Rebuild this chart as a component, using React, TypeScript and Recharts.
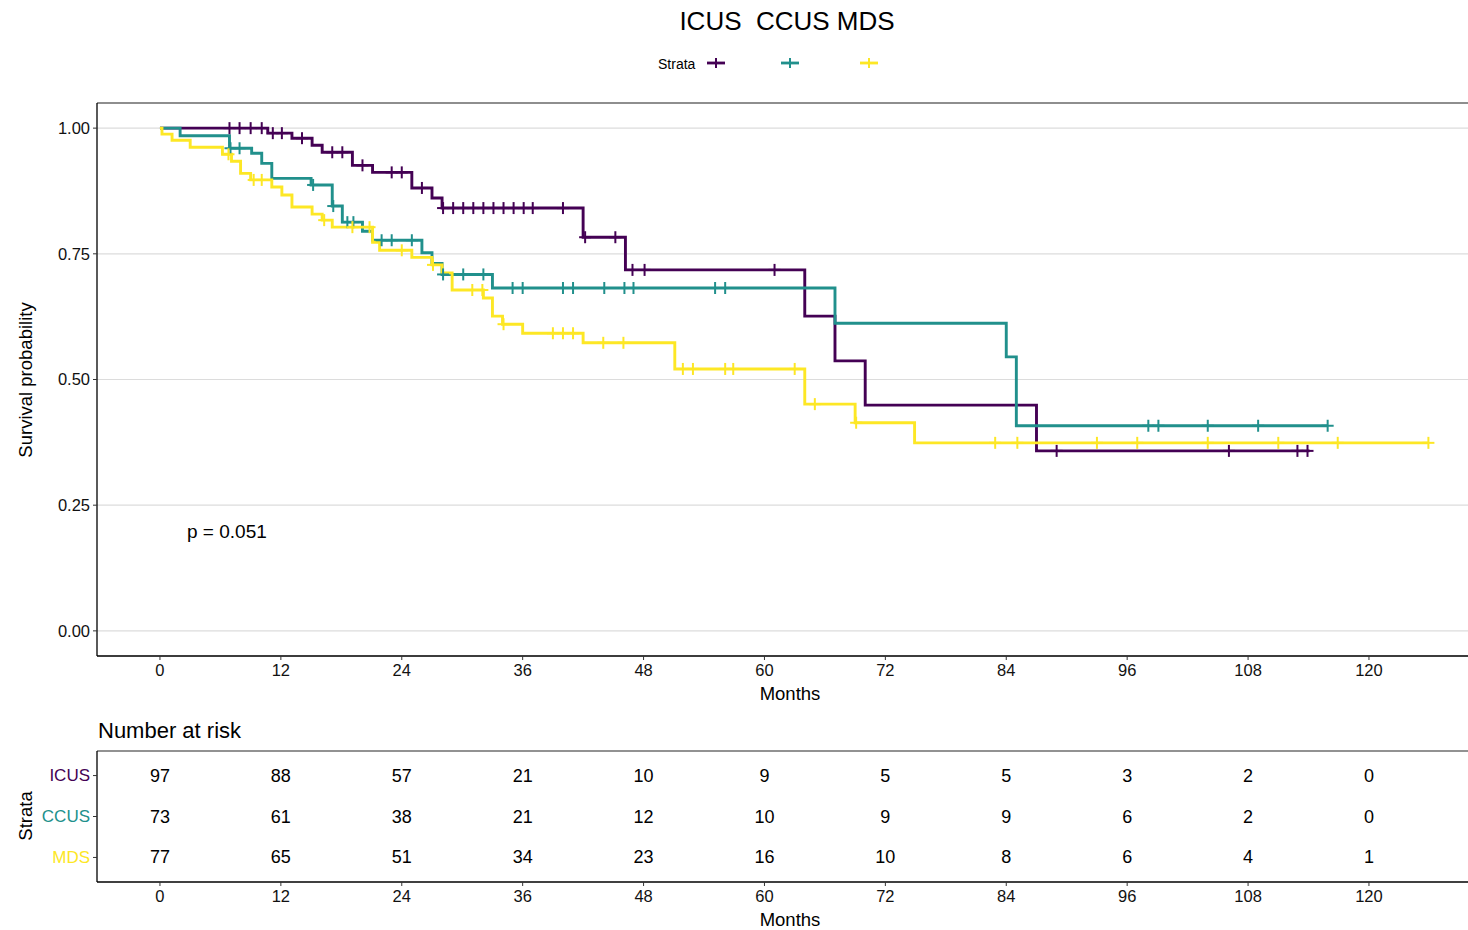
import React from 'react';
import { ComposedChart, Line, Scatter, XAxis, YAxis, CartesianGrid, ReferenceLine } from 'recharts';

// ---------- data ----------
const STRATA = ['ICUS', 'CCUS', 'MDS'];
const COLORS = ['#440154', '#21908C', '#FDE725'];

// Kaplan-Meier steps: [month, survival after the step]
const icusSteps: [number, number][] = [
  [0, 1.0], [10.7, 0.99], [13.1, 0.98], [15.1, 0.966], [16.1, 0.952], [19.1, 0.926], [21.1, 0.912],
  [25.0, 0.881], [27.0, 0.861], [28.0, 0.841], [42.0, 0.783], [46.2, 0.718], [64.0, 0.626],
  [67.0, 0.537], [70.0, 0.449], [87.0, 0.358],
];
const icusEnd = 114.1;
const icusCensor = [
  6.9, 7.9, 9.0, 10.1, 11.2, 12.1, 14.1, 17.1, 18.1, 20.1, 23.0, 24.0, 26.0,
  28.1, 29.1, 30.1, 31.1, 32.1, 33.1, 34.1, 35.1, 36.1, 37.0, 40.0, 42.2, 45.2,
  46.9, 48.1, 61.0, 89.0, 106.1, 112.9, 113.9,
];

const ccusSteps: [number, number][] = [
  [0, 1.0], [2.0, 0.985], [6.9, 0.96], [9.1, 0.95], [10.1, 0.93], [11.1, 0.9], [15.0, 0.887],
  [17.1, 0.845], [18.1, 0.813], [20.1, 0.795], [21.1, 0.777], [26.0, 0.752], [27.0, 0.731],
  [28.0, 0.709], [33.0, 0.682], [67.0, 0.612], [84.0, 0.545], [85.0, 0.408],
];
const ccusEnd = 115.9;
const ccusCensor = [
  7.0, 7.9, 15.2, 17.2, 18.6, 19.2, 22.0, 23.0, 25.0, 28.1, 30.1, 32.1, 35.0, 36.0, 40.0, 41.0,
  44.1, 46.1, 47.0, 55.1, 56.1, 98.1, 99.1, 104.0, 109.0, 115.9,
];

const mdsSteps: [number, number][] = [
  [0, 1.0], [0.2, 0.988], [1.2, 0.976], [3.0, 0.962], [6.2, 0.948], [7.1, 0.934], [8.0, 0.91],
  [9.0, 0.897], [11.1, 0.883], [12.1, 0.867], [13.1, 0.843], [15.1, 0.829], [16.1, 0.817],
  [17.1, 0.803], [21.1, 0.773], [21.8, 0.757], [25.0, 0.743], [27.0, 0.728], [28.0, 0.712],
  [29.0, 0.678], [32.1, 0.662], [33.0, 0.626], [34.0, 0.61], [36.0, 0.592], [42.0, 0.573],
  [51.1, 0.521], [64.0, 0.451], [69.0, 0.414], [74.9, 0.374],
];
const mdsEnd = 125.9;
const mdsCensor = [
  6.8, 9.3, 10.1, 16.3, 19.1, 20.8, 24.0, 27.1, 31.0, 32.0, 34.1, 39.0, 40.0, 41.0, 44.0, 46.0,
  51.9, 52.9, 56.1, 56.9, 63.0, 65.0, 69.1, 82.9, 85.1, 93.0, 97.0, 104.0, 111.0, 116.9, 125.9,
];

// Number at risk
const riskTimes = [0, 12, 24, 36, 48, 60, 72, 84, 96, 108, 120];
const icusRisk = [97, 88, 57, 21, 10, 9, 5, 5, 3, 2, 0];
const ccusRisk = [73, 61, 38, 21, 12, 10, 9, 9, 6, 2, 0];
const mdsRisk = [77, 65, 51, 34, 23, 16, 10, 8, 6, 4, 1];

const xTicks = [0, 12, 24, 36, 48, 60, 72, 84, 96, 108, 120];
const yTicks = [0, 0.25, 0.5, 0.75, 1.0];
const pValueText = 'p = 0.051';

// ---------- helpers ----------
const survAt = (steps: [number, number][], t: number) => {
  let s = steps[0][1];
  for (const [tt, v] of steps) if (tt <= t) s = v;
  return s;
};
const toLine = (steps: [number, number][], end: number) => [
  ...steps.map(([x, y]) => ({ x, y })),
  { x: end, y: steps[steps.length - 1][1] },
];
const toCensor = (steps: [number, number][], times: number[]) =>
  times.map((t) => ({ x: t, y: survAt(steps, t) }));

const SERIES = [
  { line: toLine(icusSteps, icusEnd), censor: toCensor(icusSteps, icusCensor), risk: icusRisk, row: 3 },
  { line: toLine(ccusSteps, ccusEnd), censor: toCensor(ccusSteps, ccusCensor), risk: ccusRisk, row: 2 },
  { line: toLine(mdsSteps, mdsEnd), censor: toCensor(mdsSteps, mdsCensor), risk: mdsRisk, row: 1 },
];

const X_DOMAIN: [number, number] = [-6.25, 129.83];
const FONT = '"Liberation Sans", Arial, Helvetica, sans-serif';
const W = 1468;
const TICK_STYLE = { fontSize: 16.5, fill: '#111', fontFamily: FONT };

const plusShape = (color: string) => (props: any) => {
  const { cx, cy } = props;
  if (cx == null || cy == null) return <g />;
  return (
    <g>
      <line x1={cx - 6} x2={cx + 6} y1={cy} y2={cy} stroke={color} strokeWidth={2} />
      <line x1={cx} x2={cx} y1={cy - 6} y2={cy + 6} stroke={color} strokeWidth={2} />
    </g>
  );
};

const numberShape = (props: any) => {
  const { cx, cy, payload } = props;
  if (cx == null || cy == null) return <g />;
  return (
    <text x={cx} y={cy} textAnchor="middle" dominantBaseline="central" fontSize={18} fill="#000" fontFamily={FONT}>
      {payload.n}
    </text>
  );
};

const strataTick = (props: any) => {
  const { x, y, payload } = props;
  const idx = 3 - payload.value;
  return (
    <text x={x} y={y} textAnchor="end" dominantBaseline="central" fontSize={17} fill={COLORS[idx]} fontFamily={FONT}>
      {STRATA[idx]}
    </text>
  );
};

const riskData = SERIES.map((s) =>
  riskTimes.map((t, i) => ({ x: t, y: s.row, n: s.risk[i] }))
);

const LEGEND_X = [707, 781, 860];

export default function App() {
  return (
    <div style={{ position: 'absolute', left: 0, top: 0, width: W, height: 930, background: '#fff', fontFamily: FONT, overflow: 'hidden' }}>
      {/* survival curves */}
      <div style={{ position: 'absolute', left: 0, top: 0 }}>
        <ComposedChart width={W} height={710} margin={{ top: 103, right: 0, bottom: 24, left: 37 }}>
          <CartesianGrid vertical={false} stroke="#DCDCDC" strokeWidth={1.2} />
          <XAxis
            type="number"
            dataKey="x"
            domain={X_DOMAIN}
            ticks={xTicks}
            allowDataOverflow
            height={30}
            tickSize={4}
            tickMargin={4}
            stroke="#000"
            axisLine={{ stroke: '#000', strokeWidth: 1.3 }}
            tickLine={{ stroke: '#333' }}
            tick={TICK_STYLE}
          />
          <YAxis
            type="number"
            dataKey="y"
            domain={[-0.05, 1.05]}
            ticks={yTicks}
            allowDataOverflow
            width={60}
            tickSize={4}
            tickMargin={3}
            tickFormatter={(v: number) => v.toFixed(2)}
            axisLine={{ stroke: '#000', strokeWidth: 1.3 }}
            tickLine={{ stroke: '#333' }}
            tick={TICK_STYLE}
          />
          <ReferenceLine y={1.05} stroke="#6E6E6E" strokeWidth={1.3} />
          {SERIES.map((s, i) => (
            <Line
              key={STRATA[i]}
              name={STRATA[i]}
              data={s.line}
              dataKey="y"
              type="stepAfter"
              stroke={COLORS[i]}
              strokeWidth={2.9}
              dot={false}
              activeDot={false}
              isAnimationActive={false}
            />
          ))}
          {SERIES.map((s, i) => (
            <Scatter
              key={'c' + STRATA[i]}
              data={s.censor}
              dataKey="y"
              shape={plusShape(COLORS[i])}
              legendType="none"
              isAnimationActive={false}
            />
          ))}
        </ComposedChart>
      </div>

      {/* risk table */}
      <div style={{ position: 'absolute', left: 0, top: 700 }}>
        <ComposedChart width={W} height={230} margin={{ top: 51, right: 0, bottom: 20, left: 37 }}>
          <XAxis
            type="number"
            dataKey="x"
            domain={X_DOMAIN}
            ticks={xTicks}
            allowDataOverflow
            height={28}
            tickSize={4}
            tickMargin={4}
            axisLine={{ stroke: '#000', strokeWidth: 1.3 }}
            tickLine={{ stroke: '#333' }}
            tick={TICK_STYLE}
          />
          <YAxis
            type="number"
            dataKey="y"
            domain={[0.4, 3.6]}
            ticks={[1, 2, 3]}
            allowDataOverflow
            width={60}
            tickSize={4}
            tickMargin={3}
            axisLine={{ stroke: '#000', strokeWidth: 1.3 }}
            tickLine={{ stroke: '#333' }}
            tick={strataTick}
          />
          <ReferenceLine y={3.6} stroke="#6E6E6E" strokeWidth={1.3} />
          {riskData.map((d, i) => (
            <Scatter key={'r' + STRATA[i]} data={d} dataKey="y" shape={numberShape} isAnimationActive={false} />
          ))}
        </ComposedChart>
      </div>

      {/* text overlay: titles, labels, legend */}
      <svg width={W} height={930} style={{ position: 'absolute', left: 0, top: 0, pointerEvents: 'none' }} fontFamily={FONT}>
        <text x={787} y={21} textAnchor="middle" dominantBaseline="central" fontSize={26} fill="#000" style={{ whiteSpace: 'pre' }}>
          {'ICUS  CCUS MDS'}
        </text>
        <text x={658} y={64} dominantBaseline="central" fontSize={14} fill="#000">Strata</text>
        {STRATA.map((s, i) => (
          <g key={'lg' + s}>
            <line x1={LEGEND_X[i]} x2={LEGEND_X[i] + 18} y1={63} y2={63} stroke={COLORS[i]} strokeWidth={2.8} />
            <line x1={LEGEND_X[i] + 9} x2={LEGEND_X[i] + 9} y1={58} y2={68} stroke={COLORS[i]} strokeWidth={2} />
          </g>
        ))}
        <text x={25} y={380} textAnchor="middle" dominantBaseline="central" fontSize={18.5} fill="#000" transform="rotate(-90 25 380)">
          Survival probability
        </text>
        <text x={790} y={693} textAnchor="middle" dominantBaseline="central" fontSize={18.5} fill="#000">Months</text>
        <text x={187} y={531} dominantBaseline="central" fontSize={19} fill="#000">{pValueText}</text>
        <text x={98} y={730} dominantBaseline="central" fontSize={22} fill="#000">Number at risk</text>
        <text x={25} y={816} textAnchor="middle" dominantBaseline="central" fontSize={18.5} fill="#000" transform="rotate(-90 25 816)">
          Strata
        </text>
        <text x={790} y={919} textAnchor="middle" dominantBaseline="central" fontSize={18.5} fill="#000">Months</text>
      </svg>
    </div>
  );
}
